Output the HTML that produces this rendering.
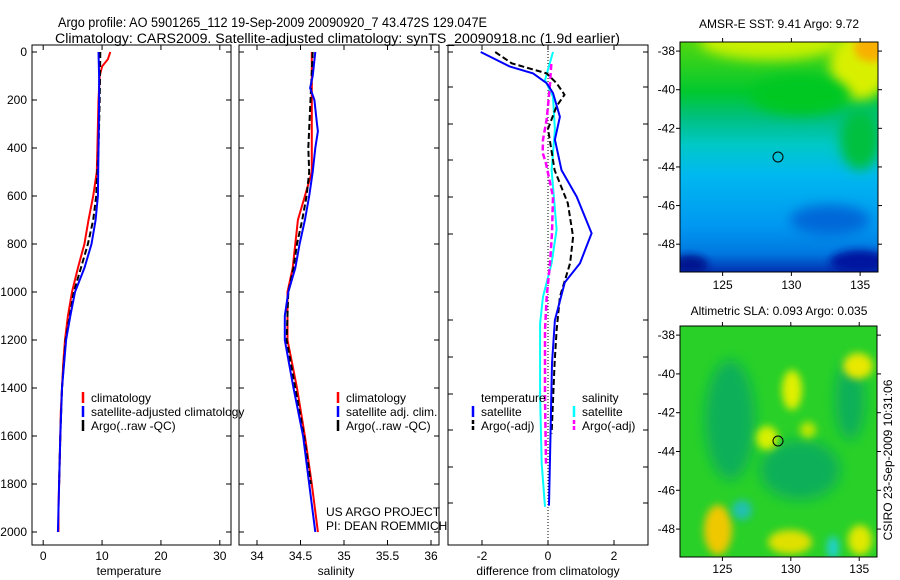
<!DOCTYPE html>
<html><head><meta charset="utf-8"><style>
html,body{margin:0;padding:0;background:#fff;}
svg{display:block;font-family:"Liberation Sans",sans-serif;}
</style></head><body>
<svg id="fig" width="900" height="580" viewBox="0 0 900 580" xmlns="http://www.w3.org/2000/svg">
<defs>
<filter id="blur6" x="-50%" y="-50%" width="200%" height="200%"><feGaussianBlur stdDeviation="6"/></filter>
<filter id="blur4" x="-50%" y="-50%" width="200%" height="200%"><feGaussianBlur stdDeviation="4"/></filter>
<linearGradient id="sstg" x1="0" y1="0" x2="0" y2="1">
<stop offset="0" stop-color="#50d810"/><stop offset="0.22" stop-color="#00c830"/><stop offset="0.33" stop-color="#00c080"/>
<stop offset="0.45" stop-color="#00c8c8"/><stop offset="0.58" stop-color="#00b8f0"/><stop offset="0.8" stop-color="#0098f0"/>
<stop offset="0.92" stop-color="#0078e0"/><stop offset="1" stop-color="#0030b0"/></linearGradient>
<clipPath id="c1"><rect x="680" y="42" width="198" height="230"/></clipPath>
<clipPath id="c2"><rect x="680" y="326" width="197" height="231"/></clipPath>
</defs>
<g font-size="13.5">
<text x="58" y="27" textLength="429" lengthAdjust="spacingAndGlyphs">Argo profile: AO 5901265_112 19-Sep-2009 20090920_7 43.472S 129.047E</text>
<text x="55" y="43" textLength="565" lengthAdjust="spacingAndGlyphs">Climatology: CARS2009. Satellite-adjusted climatology: synTS_20090918.nc (1.9d earlier)</text>
</g>
<g id="p1"></g>
<g id="p2"></g>
<g id="p3"></g>
<g>
<text x="779" y="28" font-size="12" text-anchor="middle">AMSR-E SST: 9.41  Argo: 9.72</text>
<g clip-path="url(#c1)">
<rect x="680" y="42" width="198" height="230" fill="url(#sstg)"/>
<ellipse cx="770" cy="42" rx="70" ry="18" fill="#c8f000" filter="url(#blur6)"/>
<ellipse cx="860" cy="65" rx="30" ry="35" fill="#d8f000" filter="url(#blur6)"/>
<ellipse cx="872" cy="48" rx="18" ry="14" fill="#f8b000" filter="url(#blur4)"/>
<ellipse cx="800" cy="95" rx="50" ry="20" fill="#00c820" filter="url(#blur6)"/>
<ellipse cx="860" cy="140" rx="20" ry="30" fill="#00c040" filter="url(#blur6)"/>
<ellipse cx="830" cy="220" rx="40" ry="15" fill="#0068d8" filter="url(#blur6)"/>
<ellipse cx="690" cy="265" rx="18" ry="10" fill="#001890" filter="url(#blur4)"/>
<ellipse cx="860" cy="262" rx="30" ry="12" fill="#0018a0" filter="url(#blur4)"/>
</g>
<rect x="680" y="42" width="198" height="230" fill="none" stroke="#000"/>
<circle cx="778" cy="157" r="5" fill="none" stroke="#000"/>
<g id="m1ticks"></g>
</g>
<g>
<text x="779" y="315" font-size="12" text-anchor="middle">Altimetric SLA: 0.093  Argo: 0.035</text>
<g clip-path="url(#c2)">
<rect x="680" y="326" width="197" height="231" fill="#28d028"/>
<ellipse cx="730" cy="420" rx="25" ry="60" fill="#10b058" filter="url(#blur6)"/>
<ellipse cx="800" cy="470" rx="40" ry="30" fill="#10b058" filter="url(#blur6)"/>
<ellipse cx="850" cy="400" rx="15" ry="40" fill="#10b058" filter="url(#blur6)"/>
<ellipse cx="792" cy="390" rx="10" ry="20" fill="#e0f000" filter="url(#blur4)"/>
<ellipse cx="858" cy="366" rx="15" ry="13" fill="#e8e800" filter="url(#blur4)"/>
<ellipse cx="767" cy="438" rx="11" ry="12" fill="#d8f000" filter="url(#blur4)"/>
<ellipse cx="808" cy="430" rx="8" ry="8" fill="#c0e800" filter="url(#blur4)"/>
<ellipse cx="718" cy="530" rx="14" ry="25" fill="#f0c800" filter="url(#blur4)"/>
<ellipse cx="790" cy="542" rx="22" ry="12" fill="#e0e000" filter="url(#blur4)"/>
<ellipse cx="860" cy="540" rx="12" ry="15" fill="#e0e800" filter="url(#blur4)"/>
<ellipse cx="742" cy="510" rx="10" ry="10" fill="#20c0b0" filter="url(#blur4)"/>
<ellipse cx="833" cy="548" rx="6" ry="12" fill="#20d0d0" filter="url(#blur4)"/>
</g>
<rect x="680" y="326" width="197" height="231" fill="none" stroke="#000"/>
<circle cx="778" cy="441" r="5" fill="none" stroke="#000"/>
<g id="m2ticks"></g>
</g>
<text font-size="12" transform="translate(892,460) rotate(-90)" text-anchor="middle">CSIRO 23-Sep-2009 10:31:06</text>
</svg>
<script>
// ---- data ----
const depthTicks = [0,200,400,600,800,1000,1200,1400,1600,1800,2000];
const tempTicks = [0,10,20,30];
const salTicks = [34,34.5,35,35.5,36];
const salTickLabels = ["34","34.5","35","35.5","36"];
const diffTicks = [-2,0,2];
const lonTicks = [125,130,135];
const latTicks = [-38,-40,-42,-44,-46,-48];

const tClimDepth = [0,30,60,100,200,400,500,600,700,800,900,1000,1100,1200,1300,1400,1500,1600,1700,1800,1900,2000];
const tClim      = [11.4,11.0,10.0,9.6,9.4,9.2,9.1,8.5,7.7,7.0,5.9,4.9,4.2,3.7,3.4,3.2,3.0,2.9,2.8,2.7,2.6,2.6];
const tSatDepth  = [0,100,200,400,600,700,800,900,1000,1100,1200,1400,1600,1800,2000];
const tSat       = [9.4,9.5,9.5,9.4,9.3,8.9,8.2,7.0,5.4,4.6,3.9,3.2,2.9,2.7,2.5];
const tArgoDepth = [0,200,400,600,700,800,900,1000,1200,1400,1600,1800];
const tArgo      = [9.7,9.6,9.4,9.0,8.5,7.6,6.4,5.2,3.8,3.2,2.9,2.7];

const sClimDepth = [0,500,600,700,800,900,1000,1100,1200,1400,1600,1800,2000];
const sClim      = [34.63,34.63,34.55,34.47,34.44,34.41,34.35,34.35,34.35,34.46,34.55,34.63,34.70];
const sSatDepth  = [0,100,150,200,300,330,400,500,600,700,800,900,1000,1100,1200,1400,1600,1800,2000];
const sSat       = [34.67,34.64,34.61,34.66,34.69,34.70,34.67,34.64,34.60,34.55,34.49,34.44,34.36,34.32,34.32,34.42,34.53,34.60,34.67];
const sArgoDepth = [0,400,500,600,700,800,900,1000,1200,1400,1600,1800];
const sArgo      = [34.64,34.59,34.60,34.57,34.52,34.46,34.42,34.36,34.34,34.44,34.54,34.62];

const dTSatDepth  = [0,61,89,130,171,270,365,492,603,755,880,960,1117,1297,1890];
const dTSat       = [-2.04,-1.15,-0.45,-0.04,0.15,0.36,0.21,0.41,0.87,1.32,0.97,0.51,0.21,0.12,0.03];
const dTArgoDepth = [0,47,89,130,178,226,320,492,630,770,880,1020,1160,1297,1590];
const dTArgo      = [-1.6,-1.1,-0.04,0.26,0.5,0.26,0.0,0.2,0.6,0.76,0.67,0.36,0.26,0.2,0.11];
const dSSatDepth  = [0,117,186,324,492,740,880,1020,1130,1435,1715,1895];
const dSSat       = [0.15,-0.09,0.15,0.21,0.11,0.26,0.11,-0.15,-0.24,-0.24,-0.19,-0.09];
const dSArgoDepth = [50,150,280,365,420,465,603,755,880,1020,1160,1435,1715];
const dSArgo      = [0.1,0.05,-0.04,-0.15,-0.16,-0.06,0.15,0.12,0.06,-0.04,-0.09,-0.09,-0.06];

const NS="http://www.w3.org/2000/svg";
function mk(tag,attrs,parent){const e=document.createElementNS(NS,tag);for(const k in attrs)e.setAttribute(k,attrs[k]);parent.appendChild(e);return e;}
const Y0=52, YS=0.24, TOP=45, BOT=545;
const yD = d => Y0 + d*YS;

function panel(g,x0,x1,xmin,xmax){
  const sx=v=>x0+(v-xmin)/(xmax-xmin)*(x1-x0);
  mk('rect',{x:x0,y:TOP,width:x1-x0,height:BOT-TOP,fill:'none',stroke:'#000'},g);
  return sx;
}
function line(g,sx,xs,ds,color,w,dash,name){
  const pts=xs.map((v,i)=>sx(v).toFixed(1)+','+yD(ds[i]).toFixed(1)).join(' ');
  const p=mk('polyline',{points:pts,fill:'none',stroke:color,'stroke-width':w},g);
  if(dash)p.setAttribute('stroke-dasharray',dash);
  
  
}
function xticks(g,sx,ticks,labels){
  ticks.forEach((t,i)=>{const x=sx(t);
    mk('line',{x1:x,x2:x,y1:BOT,y2:BOT-5,stroke:'#000'},g);
    mk('line',{x1:x,x2:x,y1:TOP,y2:TOP+5,stroke:'#000'},g);
    const tx=mk('text',{x:x,y:560,'font-size':12,'text-anchor':'middle'},g);tx.textContent=labels?labels[i]:String(t);
    
    
  });
}
function yticks(g,x0,x1,labels){
  depthTicks.forEach(d=>{const y=yD(d);
    mk('line',{x1:x0,x2:x0+5,y1:y,y2:y,stroke:'#000'},g);
    mk('line',{x1:x1,x2:x1-5,y1:y,y2:y,stroke:'#000'},g);
    if(labels){const t=mk('text',{x:27,y:y+4,'font-size':12,'text-anchor':'end'},g);t.textContent=String(d);
      
      }
  });
}
function xtitle(g,x,s){const t=mk('text',{x:x,y:575,'font-size':12,'text-anchor':'middle'},g);t.textContent=s;
  
  }
function legend(g,x,y,color,label,dash){
  const l=mk('line',{x1:x,x2:x,y1:y-6,y2:y+5,stroke:color,'stroke-width':2.5},g);
  if(dash)l.setAttribute('stroke-dasharray','4,2');
  const t=mk('text',{x:x+8,y:y+4,'font-size':12},g);t.textContent=label;
  
  
}

// Panel 1 temperature
const g1=document.getElementById('p1');
const sx1=panel(g1,32,231,-1.9,31.9);
yticks(g1,32,231,true);xticks(g1,sx1,tempTicks);xtitle(g1,129,'temperature');
line(g1,sx1,tClim,tClimDepth,'#f00',2,null,'temp-climatology-line');
line(g1,sx1,tArgo,tArgoDepth,'#000',2,'6,3','temp-argo-line');
line(g1,sx1,tSat,tSatDepth,'#00f',2,null,'temp-satellite-line');
legend(g1,83,398,'#f00','climatology');
legend(g1,83,412,'#00f','satellite-adjusted climatology');
legend(g1,83,426,'#000','Argo(..raw -QC)');

// Panel 2 salinity
const g2=document.getElementById('p2');
const sx2=panel(g2,239,439,33.793,36.092);
yticks(g2,239,439,false);xticks(g2,sx2,salTicks,salTickLabels);xtitle(g2,336,'salinity');
line(g2,sx2,sClim,sClimDepth,'#f00',2,null,'sal-climatology-line');
line(g2,sx2,sArgo,sArgoDepth,'#000',2,'6,3','sal-argo-line');
line(g2,sx2,sSat,sSatDepth,'#00f',2,null,'sal-satellite-line');
legend(g2,338,398,'#f00','climatology');
legend(g2,338,412,'#00f','satellite adj. clim.');
legend(g2,338,426,'#000','Argo(..raw -QC)');
[['US ARGO PROJECT',516],['PI: DEAN ROEMMICH',530]].forEach(a=>{const t=mk('text',{x:326,y:a[1],'font-size':12},g2);t.textContent=a[0];
  
  });

// Panel 3 difference
const g3=document.getElementById('p3');
const sx3=panel(g3,448,648,-3.03,3.03);
xticks(g3,sx3,diffTicks);xtitle(g3,548,'difference from climatology');
[0,35,72,108,145,182,268,305,342,378,415,451].forEach(o=>{const y=52+o;
  mk('line',{x1:448,x2:453,y1:y,y2:y,stroke:'#000'},g3);mk('line',{x1:648,x2:643,y1:y,y2:y,stroke:'#000'},g3);});
mk('line',{x1:sx3(0),x2:sx3(0),y1:TOP,y2:BOT,stroke:'#000','stroke-dasharray':'1,2'},g3);
line(g3,sx3,dSSat,dSSatDepth,'#0ff',2,null,'diff-sal-satellite-line');
line(g3,sx3,dSArgo,dSArgoDepth,'#f0f',2.5,'6,3','diff-sal-argo-line');
line(g3,sx3,dTArgo,dTArgoDepth,'#000',2,'6,3','diff-temp-argo-line');
line(g3,sx3,dTSat,dTSatDepth,'#00f',2,null,'diff-temp-satellite-line');
{const t=mk('text',{x:481,y:402,'font-size':12},g3);t.textContent='temperature';}
{const t=mk('text',{x:582,y:402,'font-size':12},g3);t.textContent='salinity';}
legend(g3,473,412,'#00f','satellite');
legend(g3,473,426,'#000','Argo(-adj)',true);
legend(g3,574,412,'#0ff','satellite');
legend(g3,574,426,'#f0f','Argo(-adj)',true);

// Map ticks
function mapTicks(id,x0,x1,y0,y1,lonMin,lonMax,latTop,latBot,labelY){
  const g=document.getElementById(id);
  const sx=v=>x0+(v-lonMin)/(lonMax-lonMin)*(x1-x0);
  const sy=v=>y0+(latTop-v)/(latTop-latBot)*(y1-y0);
  lonTicks.forEach(l=>{const x=sx(l);
    mk('line',{x1:x,x2:x,y1:y1,y2:y1+4,stroke:'#000'},g);mk('line',{x1:x,x2:x,y1:y0,y2:y0-4,stroke:'#000'},g);
    const t=mk('text',{x:x,y:labelY,'font-size':12,'text-anchor':'middle'},g);t.textContent=String(l);
    
    });
  latTicks.forEach(l=>{const y=sy(l);
    mk('line',{x1:x0,x2:x0-4,y1:y,y2:y,stroke:'#000'},g);mk('line',{x1:x1,x2:x1+4,y1:y,y2:y,stroke:'#000'},g);
    const t=mk('text',{x:x0-5,y:y+4,'font-size':12,'text-anchor':'end'},g);t.textContent=String(l);
    
    });
}
mapTicks('m1ticks',680,878,42,272,121.9,136.3,-37.53,-49.44,289);
mapTicks('m2ticks',680,877,326,557,121.9,136.3,-37.53,-49.44,573);
</script>
</body></html>
